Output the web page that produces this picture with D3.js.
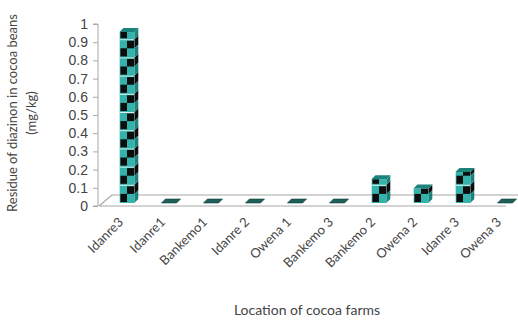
<!DOCTYPE html>
<html>
<head>
<meta charset="utf-8">
<script src="https://cdn.jsdelivr.net/npm/d3@7"></script>
<style>
  html, body { margin: 0; padding: 0; background: #fff; }
  svg { display: block; font-family: Lato, "Open Sans", sans-serif; }
</style>
</head>
<body>
<svg id="chart" width="518" height="320"></svg>
<script>
// Diazinon residue per cocoa farm
const farms = ["Idanre3", "Idanre1", "Bankemo1", "Idanre 2", "Owena 1",
               "Bankemo 3", "Bankemo 2", "Owena 2", "Idanre 3", "Owena 3"];
const residue = [0.94, 0, 0, 0, 0, 0, 0.13, 0.08, 0.17, 0];
const yTicks = [0, 0.1, 0.2, 0.3, 0.4, 0.5, 0.6, 0.7, 0.8, 0.9, 1];
const yTickLabels = ["0", "0.1", "0.2", "0.3", "0.4", "0.5", "0.6", "0.7", "0.8", "0.9", "1"];
const cubeStep = 0.1;   // one stacked cube per 0.1 mg/kg

const svg = d3.select("#chart");

const axisX = 98;
const y = d3.scaleLinear().domain([0, 1]).range([206, 24]);
const x = d3.scaleBand().domain(farms).range([104, 524]).paddingInner(0.64).paddingOuter(0.32);

// 3D depth of floor and bars
const floorDx = 13, floorDy = -11;
const barOffX = 2, barOffY = -3;   // bar front face sits slightly behind the front edge
const sideDx = 4, sideDy = -4;

const teal = "#33b3ab", tealDark = "#1c827c", black = "#0d0d0d";

// floor
const y0 = y(0);
svg.append("path")
  .attr("d", `M${axisX + 1},${y0} L${axisX + 1 + floorDx},${y0 + floorDy} L518,${y0 + floorDy} M${axisX + 1},${y0} L506,${y0}`)
  .attr("fill", "none").attr("stroke", "#a8a8a8").attr("stroke-width", 1.2);

// value axis
const ax = svg.append("g").attr("transform", `translate(${axisX},0)`)
  .call(d3.axisLeft(y).tickValues(yTicks).tickFormat((d, i) => yTickLabels[i]).tickSize(5).tickPadding(5));
ax.select(".domain").attr("stroke", "#a8a8a8").attr("d", `M-5,${y(1)}H0V${y(0)}H-5`);
ax.selectAll(".tick line").attr("stroke", "#a8a8a8");
ax.selectAll(".tick text").attr("fill", "#444").attr("font-size", 14);

// bars built from stacked checkered cubes
const cubePx = y(0) - y(cubeStep);
const defs = svg.append("defs");
const bw = x.bandwidth();

farms.forEach((f, i) => {
  const v = residue[i];
  const x0 = x(f) + barOffX;
  const base = y(0) + barOffY;
  const top = base - (y(0) - y(v));
  const g = svg.append("g");

  if (v > 0) {
    const clipId = "clip" + i;
    defs.append("clipPath").attr("id", clipId)
      .append("path")
      .attr("d", `M${x0},${base} L${x0},${top} L${x0 + bw},${top} L${x0 + bw + sideDx},${top + sideDy} L${x0 + bw + sideDx},${base + sideDy} L${x0 + bw},${base} Z`);
    const cg = g.append("g").attr("clip-path", `url(#${clipId})`);
    const n = Math.ceil(v / cubeStep - 1e-9);
    d3.range(n).forEach(k => {
      const yb = base - k * cubePx;
      const yt = yb - cubePx;
      const hh = cubePx / 2, hw = bw / 2;
      // front face: teal with two black checker squares
      cg.append("rect").attr("x", x0).attr("y", yt).attr("width", bw).attr("height", cubePx).attr("fill", teal);
      cg.append("rect").attr("x", x0 + hw).attr("y", yt + 1.5).attr("width", hw - 0.5).attr("height", hh - 1.5).attr("fill", black);
      cg.append("rect").attr("x", x0 + 1).attr("y", yt + hh).attr("width", hw - 1).attr("height", hh - 1).attr("fill", black);
      cg.append("line").attr("x1", x0).attr("x2", x0 + bw).attr("y1", yt + 0.5).attr("y2", yt + 0.5)
        .attr("stroke", "#dff1ef").attr("stroke-width", 1);
      // side face
      const xs = x0 + bw;
      cg.append("path")
        .attr("d", `M${xs},${yt} L${xs + sideDx},${yt + sideDy} L${xs + sideDx},${yt + sideDy + hh} L${xs},${yt + hh} Z`)
        .attr("fill", black);
      cg.append("path")
        .attr("d", `M${xs},${yt + hh} L${xs + sideDx},${yt + sideDy + hh} L${xs + sideDx},${yb + sideDy} L${xs},${yb} Z`)
        .attr("fill", tealDark);
    });
  }
  // top cap
  g.append("path")
    .attr("d", `M${x0},${top} L${x0 + sideDx},${top + sideDy} L${x0 + bw + sideDx},${top + sideDy} L${x0 + bw},${top} Z`)
    .attr("fill", v > 0 ? tealDark : "#1f5f5a")
    .attr("stroke", v > 0 ? "none" : "#123f3c").attr("stroke-width", 0.6);
});

// category labels
svg.append("g").selectAll("text").data(farms).join("text")
  .attr("transform", d => `translate(${x(d) + bw / 2 - 1},${223}) rotate(-45)`)
  .attr("text-anchor", "end")
  .attr("font-size", 13)
  .attr("fill", "#444")
  .text(d => d);

// axis titles
svg.append("text")
  .attr("x", 307).attr("y", 315)
  .attr("text-anchor", "middle").attr("font-size", 14).attr("fill", "#444")
  .text("Location of cocoa farms");

const yt = svg.append("text")
  .attr("transform", "translate(17,113) rotate(-90)")
  .attr("text-anchor", "middle").attr("font-size", 13).attr("fill", "#444");
yt.append("tspan").attr("x", 0).attr("dy", 0).text("Residue of diazinon in cocoa beans");
yt.append("tspan").attr("x", 0).attr("dy", 19).text("(mg/kg)");
</script>
</body>
</html>
